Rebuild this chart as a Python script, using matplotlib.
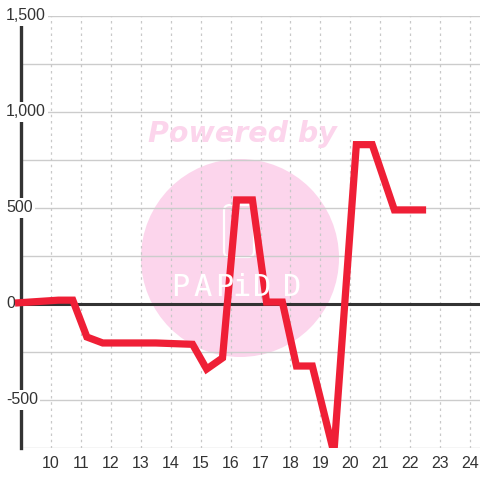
import matplotlib
matplotlib.use("Agg")
import matplotlib.pyplot as plt
from matplotlib.patches import Circle, FancyBboxPatch, Rectangle

# ---- data ----
x_vals = [8.8, 10.25, 10.73, 11.2, 11.73, 13.5, 14.73, 15.2, 15.73, 16.2, 16.73,
          17.2, 17.73, 18.2, 18.73, 19.45, 20.2, 20.73, 21.47, 22.53]
y_vals = [5, 20, 20, -172, -203, -203, -210, -339, -281, 542, 542,
          10, 10, -323, -323, -775, 830, 830, 490, 490]
x_ticks = list(range(10, 25))
y_label_vals = [1500, 1000, 500, 0, -500]
y_label_txt = ["1,500", "1,000", "500", "0", "-500"]
y_grid = [1500, 1250, 1000, 750, 500, 250, -250, -500, -750]

plt.rcParams['font.family'] = ['Liberation Sans', 'DejaVu Sans']

fig = plt.figure(figsize=(4.8, 4.8), dpi=100)
W = H = 480.0
ax = fig.add_axes([21 / W, 32 / H, 1 - 21 / W, (448 - 16) / H])
ax.set_xlim(9, 24.33)
ax.set_ylim(-750, 1500)
for s in ax.spines.values():
    s.set_visible(False)
ax.set_yticks([])
ax.set_xticks(x_ticks)
ax.set_xticklabels([str(t) for t in x_ticks])
ax.tick_params(axis='x', length=0, pad=6, labelsize=11.5, labelcolor='#333333')

# watermark
pink = '#fcd5ec'
ax.add_patch(Circle((240 / W, 1 - 258 / H), 99 / W, transform=fig.transFigure,
                    facecolor=pink, edgecolor='none', zorder=0.1))
ax.add_patch(FancyBboxPatch((224 / W, 1 - 257 / H), 30 / W, 52 / H,
                            boxstyle="round,pad=0,rounding_size=0.012",
                            transform=fig.transFigure, facecolor='none',
                            edgecolor='white', linewidth=1.6, zorder=0.15))
for ch, px in zip("PAPiDD", [180, 203, 224, 242, 262, 292]):
    fig.text(px / W, 1 - 288 / H, ch, color='white', fontsize=22,
             family='DejaVu Sans Mono', ha='center', va='center', zorder=0.15)
fig.text(242 / W, 1 - 134 / H, "Powered by", color=pink, fontsize=20.5,
         family='DejaVu Sans', fontweight='bold', fontstyle='italic',
         ha='center', va='center', zorder=0.15)

# grid
for g in y_grid:
    ax.axhline(g, color='#cccccc', linewidth=1, zorder=0.5)
for t in x_ticks:
    ax.axvline(t, color='#c8c8c8', linewidth=0.9, linestyle=(0, (2, 3)), zorder=0.5)

# y axis line and zero line
ax.axvline(9, color='#333333', linewidth=2.4, zorder=0.6, clip_on=False)
ax.axhline(0, color='#333333', linewidth=2.2, zorder=2)

# y labels with white background
for v, t in zip(y_label_vals, y_label_txt):
    ax.text(-15 / 30 + 9, v, t, ha='left', va='center', fontsize=11.5,
            color='#333333', zorder=1,
            bbox=dict(facecolor='white', edgecolor='none', pad=1.5))

# data line
ln, = ax.plot(x_vals, y_vals, color='#ef1f36', linewidth=5.2,
              solid_joinstyle='miter', solid_capstyle='butt', zorder=3)
clip = Rectangle((0, 32 / H), 1, 1, transform=fig.transFigure)
ln.set_clip_path(clip)

fig.savefig("out.png", dpi=100)
